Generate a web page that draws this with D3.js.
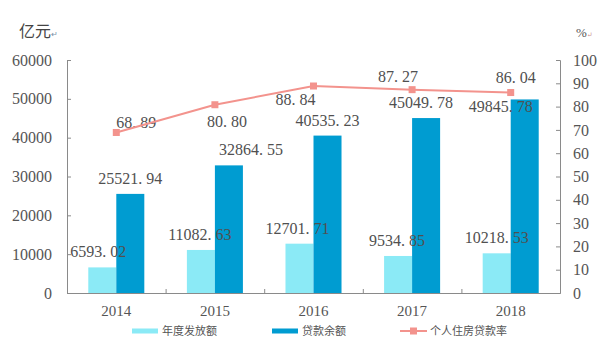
<!DOCTYPE html>
<html>
<head>
<meta charset="utf-8">
<script src="https://cdn.jsdelivr.net/npm/d3@7"></script>
<style>
  html, body { margin: 0; padding: 0; background: #fff; }
  svg { display: block; }
</style>
</head>
<body>
<svg id="chart" width="600" height="348"></svg>
<script>
// Data
const years = ["2014", "2015", "2016", "2017", "2018"];
const issued = [6593.02, 11082.63, 12701.71, 9534.85, 10218.53];     // 年度发放额 (亿元)
const balance = [25521.94, 32864.55, 40535.23, 45049.78, 49845.78];  // 贷款余额 (亿元)
const rate = [68.89, 80.80, 88.84, 87.27, 86.04];                   // 个人住房贷款率 (%)
const leftTicks = [0, 10000, 20000, 30000, 40000, 50000, 60000];
const rightTicks = [0, 10, 20, 30, 40, 50, 60, 70, 80, 90, 100];
const seriesNames = ["年度发放额", "贷款余额", "个人住房贷款率"];

// Label nudges (dx, dy in px) so the value labels don't collide
const issuedNudge = [[-4, 0], [-1, 0], [-2, 0], [-1, 0], [0, 0]];
const balanceNudge = [[0, 0], [22, 0], [0, 0], [-5, 0], [-24, 23]];
const rateNudge = [[20, -4], [12, 22], [-18, 19], [-14, -8], [5, -10]];

const colors = { issued: "#8BEAF6", balance: "#009CD1", rate: "#F3938D", text: "#555", axis: "#8a8a8a" };
const numFont = "'Liberation Serif', 'DejaVu Serif', serif";
const cjkFont = "'Noto Sans CJK SC', 'Noto Sans', sans-serif";

const svg = d3.select("#chart");
const plot = { left: 67, right: 560, top: 60, bottom: 293 };

const x = d3.scaleBand().domain(years).range([plot.left, plot.right]).paddingInner(0).paddingOuter(0);
const xs = d3.scaleBand().domain(["issued", "balance"]).range([0, x.bandwidth()]).paddingInner(0).paddingOuter(0.76);
const yL = d3.scaleLinear().domain([0, 60000]).range([plot.bottom, plot.top]);
const yR = d3.scaleLinear().domain([0, 100]).range([plot.bottom, plot.top]);

// Bars
const barData = years.map((yr, i) => ({ yr, i, issued: issued[i], balance: balance[i] }));
const groups = svg.append("g").selectAll("g").data(barData).join("g")
  .attr("transform", d => `translate(${x(d.yr)},0)`);
groups.append("rect")
  .attr("x", xs("issued")).attr("width", xs.bandwidth())
  .attr("y", d => yL(d.issued)).attr("height", d => yL(0) - yL(d.issued))
  .attr("fill", colors.issued);
groups.append("rect")
  .attr("x", xs("balance")).attr("width", xs.bandwidth())
  .attr("y", d => yL(d.balance)).attr("height", d => yL(0) - yL(d.balance))
  .attr("fill", colors.balance);

// Number label with the wide decimal point spacing
function numLabel(sel, value, cx, baseline) {
  const s = value.toFixed(2).split(".");
  const t = sel.append("text")
    .attr("x", cx).attr("y", baseline)
    .attr("text-anchor", "middle")
    .attr("font-family", numFont).attr("font-size", 16)
    .attr("fill", "#505050");
  t.append("tspan").text(s[0] + ".");
  t.append("tspan").attr("dx", 4).text(s[1]);
}

const labels = svg.append("g");
barData.forEach(d => {
  const x0 = x(d.yr);
  numLabel(labels, d.issued,
    x0 + xs("issued") + xs.bandwidth() / 2 + issuedNudge[d.i][0],
    yL(d.issued) - 10 + issuedNudge[d.i][1]);
  numLabel(labels, d.balance,
    x0 + xs("balance") + xs.bandwidth() / 2 + balanceNudge[d.i][0],
    yL(d.balance) - 10 + balanceNudge[d.i][1]);
});

// Axes
const axisLeft = d3.axisLeft(yL).tickValues(leftTicks).tickSize(-4).tickSizeOuter(-4).tickPadding(15).tickFormat(d3.format("d"));
const gL = svg.append("g").attr("transform", `translate(${plot.left},0)`).call(axisLeft);
const axisRight = d3.axisRight(yR).tickValues(rightTicks).tickSize(-4).tickSizeOuter(-4).tickPadding(13).tickFormat(d3.format("d"));
const gR = svg.append("g").attr("transform", `translate(${plot.right},0)`).call(axisRight);
const axisBottom = d3.axisBottom(x).tickSize(0).tickSizeOuter(0).tickPadding(12);
const gB = svg.append("g").attr("transform", `translate(0,${plot.bottom})`).call(axisBottom);

[gL, gR, gB].forEach(g => {
  g.select(".domain").attr("stroke", colors.axis);
  g.selectAll(".tick line").attr("stroke", colors.axis);
  g.selectAll(".tick text").attr("font-family", numFont).attr("font-size", 16).attr("fill", colors.text);
});
gB.selectAll(".tick text").attr("font-size", 15).attr("dy", "0.71em");

// Category separators on the x axis
svg.append("g").selectAll("line").data(years.slice(1)).join("line")
  .attr("x1", d => x(d) + 0.5).attr("x2", d => x(d) + 0.5)
  .attr("y1", plot.bottom).attr("y2", plot.bottom - 4)
  .attr("stroke", colors.axis);

// Rate line
const cx = d => x(d) + x.bandwidth() / 2;
const pts = years.map((yr, i) => ({ yr, i, v: rate[i] }));
svg.append("path").datum(pts)
  .attr("d", d3.line().x(d => cx(d.yr)).y(d => yR(d.v)))
  .attr("fill", "none").attr("stroke", colors.rate).attr("stroke-width", 2);
svg.append("g").selectAll("rect").data(pts).join("rect")
  .attr("x", d => cx(d.yr) - 3.5).attr("y", d => yR(d.v) - 3.5)
  .attr("width", 7).attr("height", 7).attr("fill", colors.rate);
pts.forEach(d => {
  numLabel(labels, d.v, cx(d.yr) + rateNudge[d.i][0], yR(d.v) + rateNudge[d.i][1]);
});

// Unit captions
const capL = svg.append("text").attr("x", 19).attr("y", 37)
  .attr("font-family", cjkFont).attr("font-size", 16).attr("fill", "#444");
capL.append("tspan").text("亿元");
capL.append("tspan").attr("font-size", 8).attr("fill", "#7a8fa8").text("↵");
const capR = svg.append("text").attr("x", 576).attr("y", 37)
  .attr("font-family", numFont).attr("font-size", 13).attr("fill", "#555");
capR.append("tspan").text("%");
capR.append("tspan").attr("font-size", 7).attr("fill", "#c98a8a").text("↵");

// Legend
const legend = svg.append("g").attr("font-family", cjkFont).attr("font-size", 11).attr("fill", "#555");
const ly = 331;
const legendItems = [
  { name: seriesNames[0], x: 132, type: "bar", color: colors.issued },
  { name: seriesNames[1], x: 272, type: "bar", color: colors.balance },
  { name: seriesNames[2], x: 400, type: "line", color: colors.rate }
];
legendItems.forEach(it => {
  if (it.type === "bar") {
    legend.append("rect").attr("x", it.x).attr("y", ly - 2.5).attr("width", 26).attr("height", 5).attr("fill", it.color);
  } else {
    legend.append("line").attr("x1", it.x).attr("x2", it.x + 27).attr("y1", ly).attr("y2", ly)
      .attr("stroke", it.color).attr("stroke-width", 2);
    legend.append("rect").attr("x", it.x + 10).attr("y", ly - 3.5).attr("width", 7).attr("height", 7).attr("fill", it.color);
  }
  legend.append("text").attr("x", it.x + 30).attr("y", ly).attr("dy", "0.36em").text(it.name);
});
</script>
</body>
</html>
